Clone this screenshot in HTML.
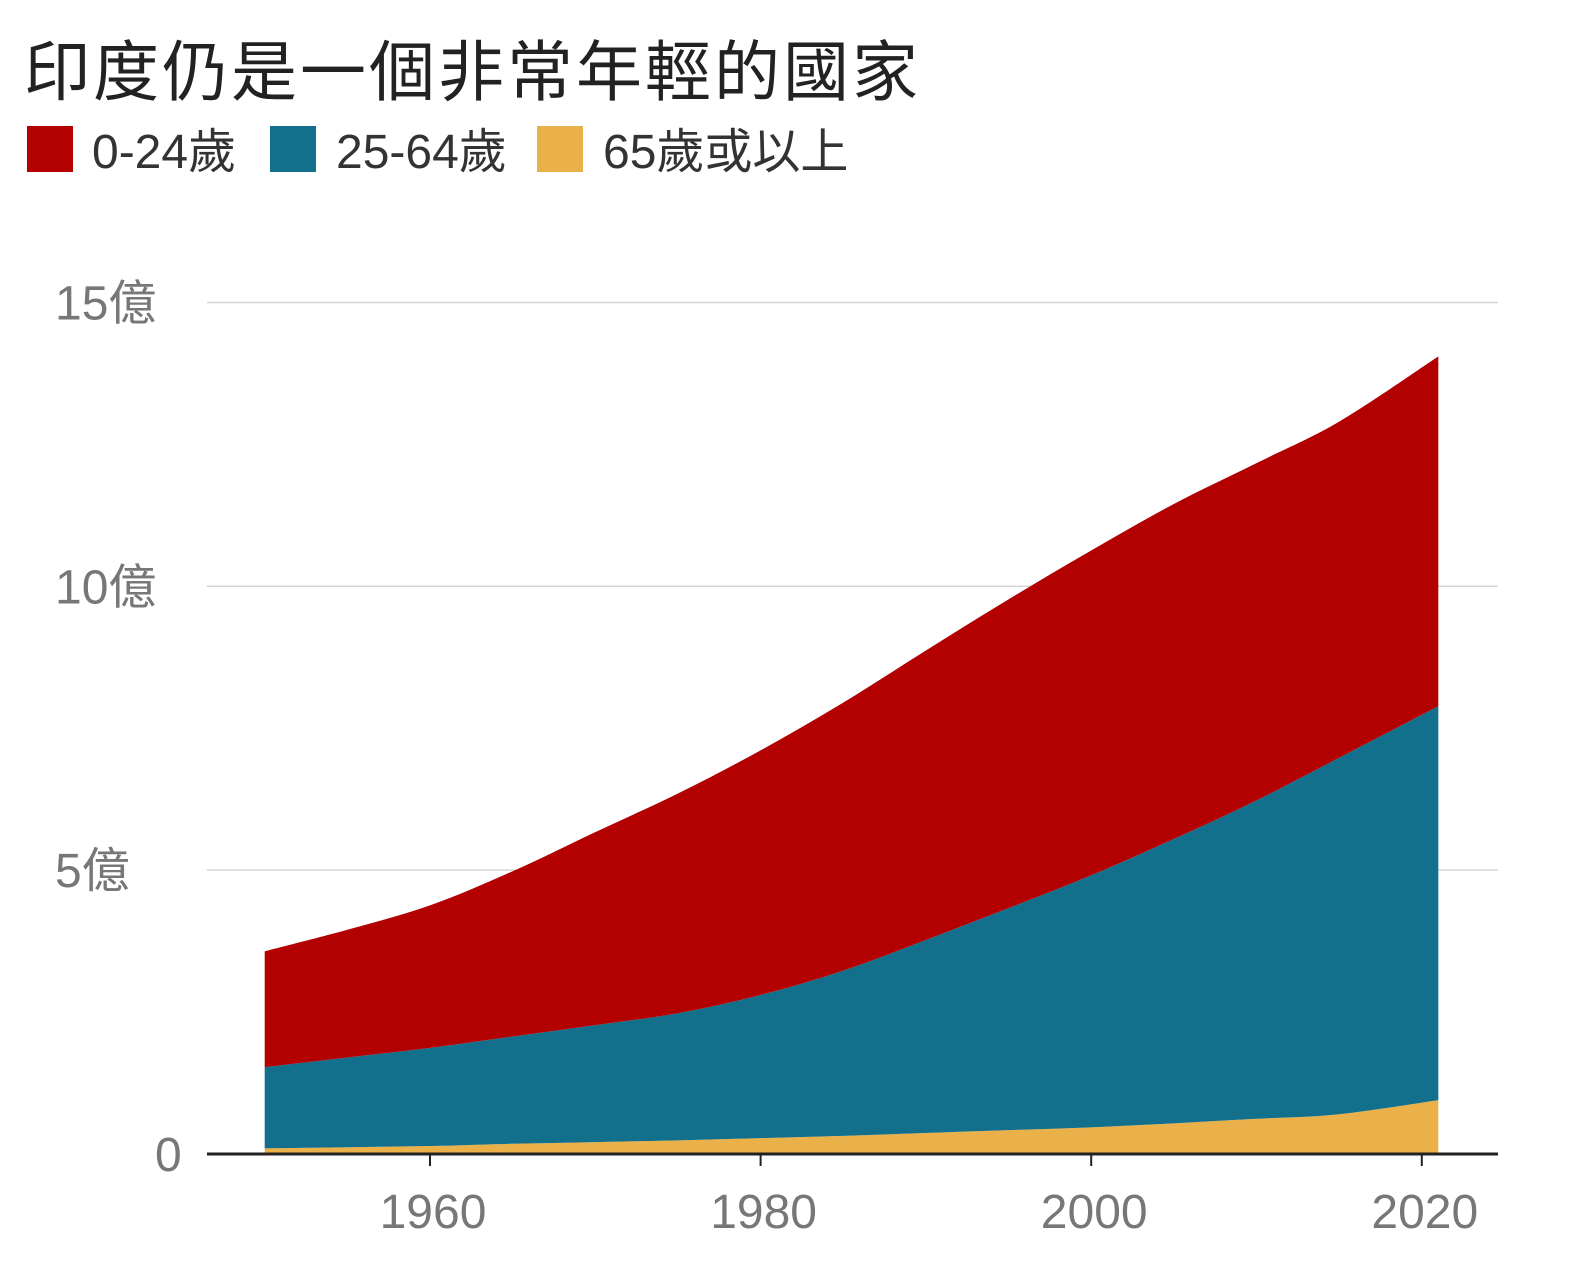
<!DOCTYPE html>
<html><head><meta charset="utf-8"><style>
body{margin:0;background:#fff;width:1572px;height:1280px;overflow:hidden;font-family:"Liberation Sans","Noto Sans CJK TC",sans-serif}
</style></head><body>
<svg id="c" width="1572" height="1280">
<text x="24" y="95" font-size="66" font-weight="normal" fill="#222" letter-spacing="3" font-family="Liberation Sans, Noto Sans CJK TC, sans-serif">印度仍是一個非常年輕的國家</text>
<g font-size="48" fill="#333" font-family="Liberation Sans, Noto Sans CJK TC, sans-serif">
<rect x="27" y="126" width="46" height="46" fill="#b30000"/>
<text x="92" y="168">0-24歲</text>
<rect x="270" y="126" width="46" height="46" fill="#13708c"/>
<text x="336" y="168">25-64歲</text>
<rect x="537" y="126" width="46" height="46" fill="#eab04a"/>
<text x="603" y="168">65歲或以上</text>
</g>
<g id="grid"></g><g id="areas"></g><g id="axes"></g>
</svg>
<script>
const years=[1950,1955,1960,1965,1970,1975,1980,1985,1990,1995,2000,2005,2010,2015,2021];
const age65=[0.10,0.12,0.14,0.18,0.21,0.24,0.28,0.32,0.37,0.42,0.47,0.54,0.62,0.70,0.95];
const age25to64=[1.43,1.58,1.73,1.89,2.06,2.24,2.52,2.91,3.40,3.91,4.44,5.01,5.61,6.28,6.94];
const age0to24=[2.04,2.25,2.51,2.91,3.40,3.87,4.31,4.72,5.10,5.44,5.72,5.90,5.94,5.92,6.16];
const yTicks=[0,5,10,15];
const yTickLabels=["0","5億","10億","15億"];
const xTicks=[1960,1980,2000,2020];
const ns="http://www.w3.org/2000/svg";
const X=y=>430+(y-1960)*16.53;
const Y=v=>1154-v*56.77;
function mk(t,a,p){const e=document.createElementNS(ns,t);for(const k in a)e.setAttribute(k,a[k]);p.appendChild(e);return e;}
function smooth(pts){
 let d='';
 for(let i=0;i<pts.length-1;i++){
  const p0=pts[Math.max(i-1,0)],p1=pts[i],p2=pts[i+1],p3=pts[Math.min(i+2,pts.length-1)];
  const c1=[p1[0]+(p2[0]-p0[0])/6,p1[1]+(p2[1]-p0[1])/6];
  const c2=[p2[0]-(p3[0]-p1[0])/6,p2[1]-(p3[1]-p1[1])/6];
  d+='C'+c1+' '+c2+' '+p2;
 }
 return d;
}
const grid=document.getElementById('grid'),areas=document.getElementById('areas'),axes=document.getElementById('axes');
yTicks.forEach((v,i)=>{
 if(v>0){const l=mk('line',{x1:207,x2:1498,y1:Y(v),y2:Y(v),stroke:'#d4d4d4','stroke-width':1.5},grid);
 
 }
 const t=mk('text',{x:v===0?155:55,y:Y(v)+17,'font-size':48,fill:'#777'},grid);
 t.textContent=yTickLabels[i];
 
 
});
const series=[[age65,'#eab04a','area-65plus'],[age25to64,'#13708c','area-25-64'],[age0to24,'#b30000','area-0-24']];
let base=years.map(()=>0);
series.forEach(([vals,col,name])=>{
 const top=base.map((b,i)=>b+vals[i]);
 const tp=years.map((y,i)=>[X(y),Y(top[i])]);
 const bp=years.map((y,i)=>[X(y),Y(base[i])]).reverse();
 const d='M'+tp[0]+smooth(tp)+'L'+bp[0]+smooth(bp)+'Z';
 const p=mk('path',{d:d,fill:col},areas);
 
 
 base=top;
});
const ax=mk('line',{x1:207,x2:1498,y1:1154,y2:1154,stroke:'#222','stroke-width':3},axes);


xTicks.forEach(y=>{
 const tk=mk('line',{x1:X(y),x2:X(y),y1:1154,y2:1166,stroke:'#222','stroke-width':2},axes);
 
 
 const t=mk('text',{x:X(y)+3,y:1228,'text-anchor':'middle','font-size':48,fill:'#777'},axes);
 t.textContent=y;
 
 
});
</script>
</body></html>
